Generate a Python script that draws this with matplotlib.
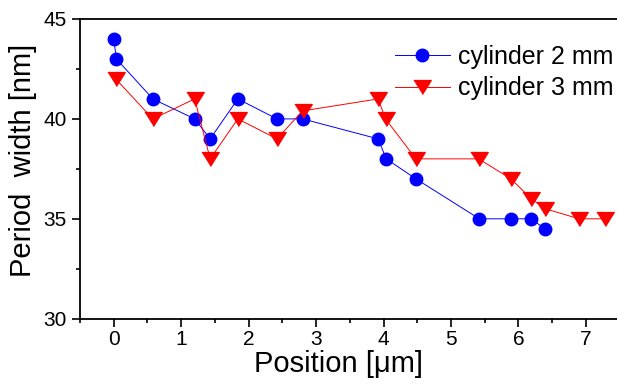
import matplotlib
matplotlib.use('Agg')
import matplotlib.pyplot as plt
from matplotlib.ticker import MultipleLocator

# Data
x_cyl2 = [0.0, 0.04, 0.58, 1.2, 1.43, 1.84, 2.42, 2.8, 3.92, 4.04, 4.48, 5.42, 5.89, 6.19, 6.39]
y_cyl2 = [44, 43, 41, 40, 39, 41, 40, 40, 39, 38, 37, 35, 35, 35, 34.5]
x_cyl3 = [0.03, 0.58, 1.2, 1.43, 1.84, 2.42, 2.8, 3.92, 4.03, 4.48, 5.41, 5.89, 6.19, 6.4, 6.9, 7.29]
y_cyl3 = [42, 40, 41, 38, 40, 39, 40.4, 41, 40, 38, 38, 37, 36, 35.5, 35, 35]
labels = ["cylinder 2 mm", "cylinder 3 mm"]
x_ticks = [0, 1, 2, 3, 4, 5, 6, 7]
y_ticks = [30, 35, 40, 45]

plt.rcParams['font.family'] = ['Liberation Sans', 'DejaVu Sans']

W, H = 617, 385
fig = plt.figure(figsize=(W / 100, H / 100), dpi=100)
left, right, top, bottom = 80, 619.6, 19, 318.7
ax = fig.add_axes([left / W, 1 - bottom / H, (right - left) / W, (bottom - top) / H])

tri = [(-1, 0.8), (1, 0.8), (0, -0.8)]
ax.plot(x_cyl2, y_cyl2, color='#0000ff', lw=0.7, marker='o', ms=9,
        mfc='#0000ff', mec='#0000ff', label=labels[0])
ax.plot(x_cyl3, y_cyl3, color='#ff0000', lw=0.7, marker=tri, ms=12.5,
        mfc='#ff0000', mec='#ff0000', label=labels[1])

ax.set_xlim(-0.5, 7.5)
ax.set_ylim(30, 45)
ax.set_xticks(x_ticks)
ax.set_yticks(y_ticks)
ax.xaxis.set_minor_locator(MultipleLocator(0.5))
ax.yaxis.set_minor_locator(MultipleLocator(2.5))

for s in ax.spines.values():
    s.set_linewidth(1.3)
ax.tick_params(which='major', direction='out', length=5.8, width=1.2, labelsize=15, pad=2.5)
ax.tick_params(which='minor', direction='out', length=3, width=1.2)
ax.tick_params(axis='y', which='major', pad=4)

ax.set_xlabel('Position [\u03bcm]', fontsize=21)
ax.set_ylabel('Period  width [nm]', fontsize=21)
ax.xaxis.set_label_coords((338.5 - left) / (right - left), (bottom - 350.5) / (bottom - top))
ax.yaxis.set_label_coords((37 - left) / (right - left), (bottom - 160.5) / (bottom - top))

leg = ax.legend(loc='upper right', bbox_to_anchor=(614 / W, 1 - 45 / H),
                bbox_transform=fig.transFigure, frameon=False, fontsize=18,
                handlelength=2.2, handletextpad=0.35, labelspacing=0.3,
                borderpad=0, borderaxespad=0)

fig.savefig('out.png', dpi=100)
